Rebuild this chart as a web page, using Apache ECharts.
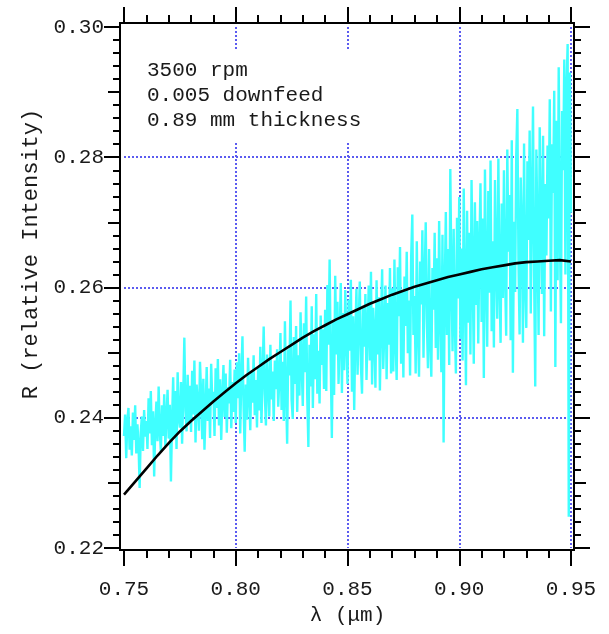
<!DOCTYPE html>
<html>
<head>
<meta charset="utf-8">
<script src="https://cdn.jsdelivr.net/npm/echarts@6/dist/echarts.min.js"></script>
<style>html,body{margin:0;padding:0;background:#fff}#c{width:609px;height:634px}</style>
</head>
<body>
<div id="c"></div>
<script>
// ---- data ----
const xTickLabels = ['0.75', '0.80', '0.85', '0.90', '0.95'];
const yTickLabels = ['0.22', '0.24', '0.26', '0.28', '0.30'];
const annotationLines = ['3500 rpm', '0.005 downfeed', '0.89 mm thickness'];
const xTitle = 'λ (μm)';
const yTitle = 'R (relative Intensity)';

// measured spectrum: wavelength start/step (µm)
const measStart = 0.75;
const measStep = 0.0005;
const measured = [
.2372,.2405,.2338,.2396,.2415,.2351,.2387,.2342,.2408,.2366,.2419,.2345,.2390,.2360,.2292,.2378,.2402,.2349,.2412,.2371,
.2395,.2352,.2430,.2376,.2441,.2358,.2410,.2310,.2389,.2425,.2364,.2448,.2381,.2347,.2419,.2372,.2436,.2355,.2401,.2443,
.2368,.2420,.2302,.2395,.2462,.2371,.2441,.2352,.2470,.2399,.2385,.2455,.2360,.2432,.2523,.2410,.2379,.2466,.2391,.2449,
.2378,.2472,.2405,.2488,.2362,.2451,.2420,.2380,.2486,.2438,.2367,.2460,.2351,.2412,.2478,.2395,.2445,.2369,.2483,.2425,
.2440,.2372,.2476,.2415,.2490,.2388,.2459,.2366,.2432,.2481,.2401,.2468,.2377,.2447,.2422,.2489,.2384,.2455,.2409,.2474,
.2392,.2485,.2430,.2499,.2376,.2464,.2525,.2418,.2348,.2451,.2397,.2492,.2438,.2381,.2472,.2423,.2496,.2404,.2458,.2385,
.2477,.2411,.2509,.2392,.2463,.2540,.2436,.2388,.2497,.2449,.2402,.2512,.2428,.2471,.2395,.2488,.2444,.2505,.2417,.2459,
.2530,.2412,.2486,.2395,.2548,.2441,.2360,.2505,.2465,.2580,.2427,.2398,.2524,.2452,.2541,.2409,.2496,.2434,.2562,.2478,
.2418,.2545,.2470,.2586,.2431,.2355,.2512,.2448,.2571,.2415,.2528,.2459,.2590,.2437,.2503,.2422,.2557,.2481,.2536,.2444,
.2566,.2441,.2604,.2512,.2643,.2486,.2369,.2550,.2435,.2618,.2497,.2578,.2452,.2529,.2607,.2438,.2561,.2473,.2596,.2519,
.2452,.2581,.2503,.2612,.2440,.2556,.2412,.2527,.2598,.2466,.2544,.2609,.2481,.2437,.2572,.2509,.2590,.2458,.2535,.2603,
.2488,.2624,.2451,.2569,.2530,.2446,.2611,.2497,.2585,.2442,.2549,.2628,.2475,.2537,.2603,.2459,.2576,.2512,.2630,.2468,
.2599,.2471,.2643,.2518,.2458,.2631,.2556,.2662,.2483,.2594,.2462,.2617,.2541,.2655,.2499,.2580,.2465,.2648,.2712,.2527,
.2587,.2468,.2671,.2535,.2463,.2640,.2574,.2688,.2492,.2612,.2700,.2549,.2476,.2659,.2521,.2463,.2630,.2566,.2684,.2507,
.2645,.2489,.2702,.2561,.2470,.2681,.2362,.2598,.2716,.2527,.2659,.2481,.2782,.2614,.2502,.2690,.2548,.2468,.2707,.2583,
.2739,.2521,.2660,.2488,.2752,.2600,.2450,.2718,.2546,.2684,.2497,.2765,.2627,.2483,.2731,.2573,.2702,.2514,.2658,.2760,
.2547,.2706,.2461,.2781,.2620,.2509,.2748,.2592,.2795,.2533,.2671,.2508,.2765,.2638,.2552,.2798,.2609,.2515,.2729,.2584,
.2780,.2617,.2526,.2812,.2655,.2742,.2519,.2826,.2469,.2701,.2593,.2803,.2874,.2640,.2528,.2769,.2689,.2515,.2821,.2606,
.2538,.2794,.2673,.2841,.2560,.2729,.2878,.2617,.2448,.2812,.2681,.2527,.2846,.2702,.2590,.2833,.2525,.2759,.2649,.2818,
.2706,.2889,.2563,.2820,.2745,.2902,.2478,.2856,.2611,.2938,.2699,.2545,.2871,.2780,.2950,.2620,.2905,.2974,.2248,.2930,
.2715
];

// fitted curve: wavelength start/step (µm)
const fitStart = 0.75;
const fitStep = 0.005;
const fitted = [
.2282,.2302,.2322,.2342,.2361,.2379,.2395,.2410,.2425,.2439,
.2453,.2466,.2478,.2490,.2501,.2512,.2523,.2533,.2542,.2551,
.2559,.2567,.2575,.2582,.2589,.2595,.2601,.2606,.2611,.2616,
.2620,.2624,.2628,.2631,.2634,.2637,.2639,.2640,.2641,.2642,
.2640
];

// ---- layout / style ----
const G = {left: 124, top: 27, width: 447, height: 521};
const FONT = 'Liberation Mono';
const FS = 21;
const TXT = '#1a1a1a';
const BLUE = '#5b5bf0';

function pairs(start, step, vals) {
  return vals.map((v, i) => [+(start + i * step).toFixed(5), v]);
}

const chart = echarts.init(document.getElementById('c'), null, {renderer: 'canvas'});

const tickStyle = {color: '#000', width: 2};
const dotted = {show: true, lineStyle: {color: BLUE, width: 2, type: [2, 2]}};

function xAx(pos, labeled, offset) {
  return {
    type: 'value', position: pos, min: 0.75, max: 0.95, interval: 0.05, offset: offset,
    axisLine: {show: true, onZero: false, lineStyle: {color: '#000', width: 2}},
    axisTick: {show: true, inside: false, length: 16, lineStyle: tickStyle},
    minorTick: {show: true, splitNumber: 5, length: 8, lineStyle: tickStyle},
    axisLabel: {show: labeled, margin: 29, color: TXT, fontFamily: FONT, fontSize: FS,
      formatter: v => xTickLabels[Math.round((v - 0.75) / 0.05)] || ''},
    splitLine: labeled ? Object.assign({showMinLine: false, showMaxLine: true}, dotted) : {show: false},
    name: labeled ? xTitle : '', nameLocation: 'middle', nameGap: 55,
    nameTextStyle: {color: TXT, fontFamily: FONT, fontSize: FS}
  };
}
function yAx(pos, labeled, offset, medium) {
  return {
    type: 'value', position: pos, min: 0.22, max: 0.30, interval: medium ? 0.01 : 0.02, offset: offset,
    axisLine: {show: !medium, onZero: false, lineStyle: {color: '#000', width: 2}},
    axisTick: {show: true, inside: false, length: medium ? 12 : 16, lineStyle: tickStyle},
    minorTick: {show: !medium, splitNumber: 10, length: 7, lineStyle: tickStyle},
    axisLabel: {show: labeled, margin: 16, color: TXT, fontFamily: FONT, fontSize: FS,
      formatter: v => yTickLabels[Math.round((v - 0.22) / 0.02)] || ''},
    splitLine: labeled ? Object.assign({showMinLine: false, showMaxLine: false}, dotted) : {show: false}
  };
}

chart.setOption({
  animation: false,
  backgroundColor: '#fff',
  grid: {left: G.left, top: G.top, width: G.width, height: G.height, containLabel: false},
  xAxis: [xAx('bottom', true, 2), xAx('top', false, 4)],
  yAxis: [yAx('left', true, 4, false), yAx('right', false, 3, false),
          yAx('left', false, 4, true), yAx('right', false, 3, true)],
  series: [
    {type: 'line', xAxisIndex: 0, yAxisIndex: 0, data: pairs(measStart, measStep, measured),
     showSymbol: false, symbol: 'none', lineStyle: {color: '#40ffff', width: 2.4}, z: 2},
    {type: 'line', xAxisIndex: 0, yAxisIndex: 0, data: pairs(fitStart, fitStep, fitted),
     showSymbol: false, symbol: 'none', lineStyle: {color: '#000', width: 2.6}, z: 3}
  ],
  graphic: [
    {type: 'rect', z: 100, silent: true,
     shape: {x: G.left - 4, y: G.top - 4, width: G.width + 7, height: G.height + 6},
     style: {fill: 'none', stroke: '#000', lineWidth: 2}},
    {type: 'text', z: 100, left: 141, top: 51,
     style: {text: annotationLines.join('\n'), font: FS + 'px "' + FONT + '"', fill: TXT, lineHeight: 25,
             backgroundColor: '#fff', padding: [7, 6, 8, 6]}},
    {type: 'text', z: 100, x: 31, y: 254, rotation: Math.PI / 2,
     style: {text: yTitle, font: '22px "' + FONT + '"', fill: TXT, align: 'center', verticalAlign: 'middle'}}
  ]
});
</script>
</body>
</html>
